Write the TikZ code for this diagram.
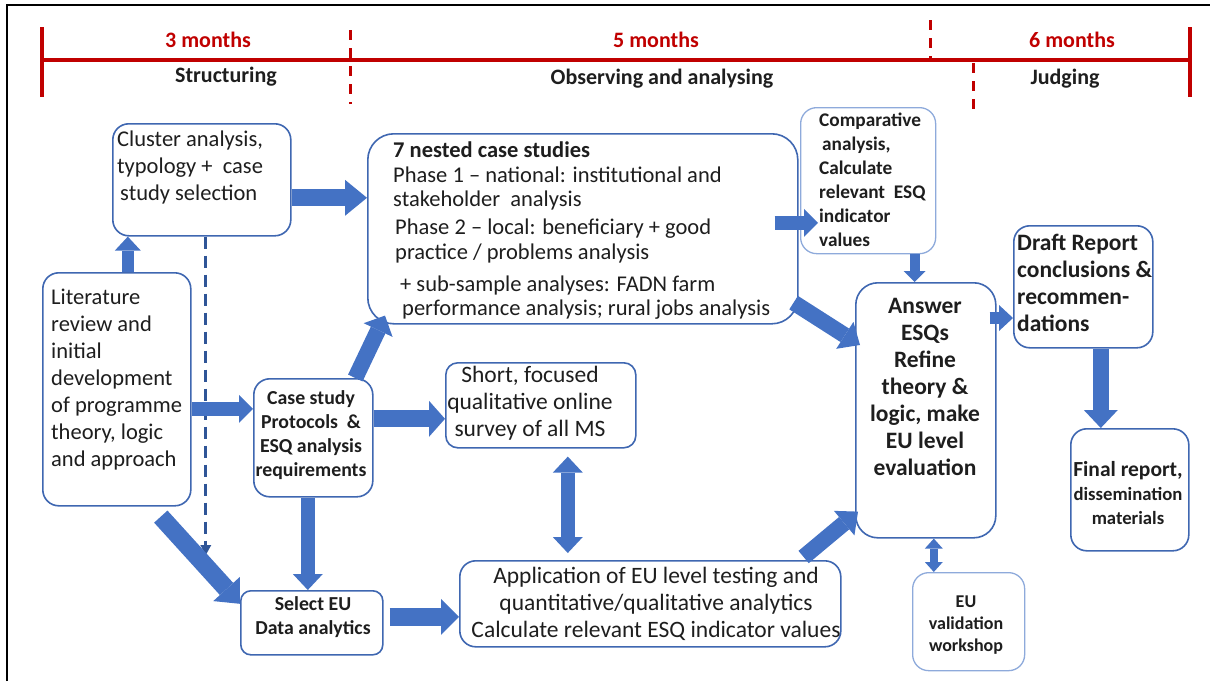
\documentclass[tikz,border=0pt]{standalone}
\usepackage{fontspec}
\setmainfont{Carlito}
\usetikzlibrary{arrows.meta}
\definecolor{flowblue}{HTML}{4472C4}
\definecolor{edgeblue}{HTML}{3F67B1}
\definecolor{paleedge}{HTML}{8EAADB}
\definecolor{dashblue}{HTML}{2F5597}
\definecolor{timered}{HTML}{C00000}
\definecolor{ink}{HTML}{1E1E1E}
\newcommand\fsBig{\fontsize{22.5}{27}\selectfont}
\newcommand\fsLarge{\fontsize{23.5}{27}\selectfont}
\newcommand\fsMid{\fontsize{22.5}{24.5}\selectfont}
\newcommand\fsSmall{\fontsize{19.8}{24}\selectfont\bfseries}
\begin{document}
\begin{tikzpicture}[x=1pt,y=-1pt,
  box/.style={draw=edgeblue,line width=1.6pt,rounded corners=16pt,fill=white,inner sep=0pt,anchor=north west},
  palebox/.style={box,draw=paleedge,line width=1.3pt},
  txt/.style={inner sep=0pt,text=ink,align=left,anchor=north west},
  ctxt/.style={inner sep=0pt,text=ink,align=center,anchor=north},
  fat/.style n args={3}{draw=flowblue,line width=#1pt,-{Triangle[width=#2pt,length=#3pt,line width=0pt]}},
  fatboth/.style n args={3}{draw=flowblue,line width=#1pt,{Triangle[width=#2pt,length=#3pt,line width=0pt]}-{Triangle[width=#2pt,length=#3pt,line width=0pt]}},
  tline/.style={draw=timered,line width=4pt},
  tdash/.style={draw=timered,line width=3pt,dash pattern=on 10pt off 8pt},
  tlabel/.style={inner sep=0pt,font=\fontsize{22}{26}\selectfont\bfseries}]
\useasboundingbox (0,0) rectangle (1210,681);
% frame
\draw[line width=2pt,black] (7,681) -- (7,5) -- (1210,5);

% timeline
\coordinate (tl) at (42,60);
\coordinate (tr) at (1190,60);
\draw[tline] (tl) -- (tr);
\draw[tline] ([yshift=33pt]tl) -- ([yshift=-37pt]tl);
\draw[tline] ([yshift=33pt]tr) -- ([yshift=-37pt]tr);
\coordinate (d1a) at (350,30); \coordinate (d1b) at (350,104);
\coordinate (d2a) at (930,20); \coordinate (d2b) at (930,58);
\coordinate (d3a) at (973,63); \coordinate (d3b) at (973,111);
\draw[tdash] (d1a) -- (d1b);
\draw[tdash] (d2a) -- (d2b);
\draw[tdash] (d3a) -- (d3b);
\node[tlabel,text=timered] (m3) at (208,40) {3 months};
\node[tlabel,text=timered] (m5) at (656,40) {5 months};
\node[tlabel,text=timered] (m6) at (1072,40) {6 months};
\node[tlabel,text=ink] (ph1) at (226,77) {Structuring};
\node[tlabel,text=ink] (ph2) at (662,79) {Observing and analysing};
\node[tlabel,text=ink] (ph3) at (1065,79) {Judging};

% boxes
\node[box,minimum width=178,minimum height=112] (clus) at (112,123) {};
\node[box,minimum width=148,minimum height=233] (lit) at (42,272) {};
\node[box,minimum width=430,minimum height=190,rounded corners=26pt] (nest) at (367,133) {};
\node[palebox,minimum width=135,minimum height=146] (comp) at (800,107) {};
\node[box,minimum width=119,minimum height=118] (case) at (253,378) {};
\node[box,minimum width=190,minimum height=85,rounded corners=12pt] (short) at (445,362) {};
\node[box,minimum width=142,minimum height=64,rounded corners=10pt] (sel) at (240,590) {};
\node[box,minimum width=381,minimum height=86] (app) at (459,560) {};
\node[box,minimum width=140,minimum height=255,rounded corners=22pt] (ans) at (855,282) {};
\node[palebox,minimum width=112,minimum height=98] (val) at (912,572) {};
\node[box,minimum width=139,minimum height=122] (draft) at (1013,225) {};
\node[box,minimum width=118,minimum height=122] (final) at (1070,428) {};

% texts
\node[txt,font=\fsBig] (clus-t) at (117,131) {Cluster analysis,\\typology +\ \ case\\\hspace*{3pt}study selection};
\node[txt,font=\fsBig] (lit-t) at (51,289) {Literature\\review and\\initial\\development\\of programme\\theory, logic\\and approach};
\node[txt,font=\fsMid] (nest-t) at (393,142) {\textbf{7 nested case studies}\\Phase 1 -- national: institutional and\\stakeholder\ \ analysis\\[3.5pt]
  \hspace*{2pt}Phase 2 -- local: beneficiary + good\\\hspace*{2pt}practice / problems analysis\\[7.5pt]
  \hspace*{7pt}+ sub-sample analyses: FADN farm\\\hspace*{9pt}performance analysis; rural jobs analysis};
\node[txt,font=\fontsize{19.3}{24}\selectfont\bfseries] (comp-t) at (819,113) {Comparative\\\hspace*{3pt}analysis,\\Calculate\\relevant\ \ ESQ\\indicator\\values};
\node[ctxt,font=\fsSmall] (case-t) at (311,390) {Case study\\Protocols\ \ \&\\ESQ analysis\\requirements};
\node[ctxt,font=\fsLarge] (short-t) at (530,366) {Short, focused\\qualitative online\\survey of all MS};
\node[ctxt,font=\fsSmall] (sel-t) at (313,596) {Select EU\\Data analytics};
\node[ctxt,font=\fsLarge] (app-t) at (656,567) {Application of EU level testing and\\quantitative/qualitative analytics\\Calculate relevant ESQ indicator values};
\node[ctxt,font=\fsLarge\bfseries] (ans-t) at (925,298) {Answer\\ESQs\\Refine\\theory \&\\logic, make\\EU level\\evaluation};
\node[ctxt,font=\fontsize{18}{22}\selectfont\bfseries] (val-t) at (966,596) {EU\\validation\\workshop};
\node[txt,font=\fsLarge\bfseries] (draft-t) at (1017,234) {Draft Report\\conclusions \&\\recommen-\\dations};
\node[ctxt,font=\fontsize{18.7}{24}\selectfont\bfseries] (final-t) at (1128,461) {{\fontsize{21.5}{24}\selectfont Final report,}\\dissemination\\materials};

% connectors
\coordinate (a1) at ([xshift=11pt]lit.north);
\draw[fat={12}{26}{14}] (a1) -- (a1 |- clus.south);
\coordinate (b1) at ([yshift=-18pt]clus.east);
\draw[fat={17}{36}{22}] (b1) -- (b1 -| nest.west);
\coordinate (c1) at ([xshift=4pt]clus.south);
\coordinate (c2) at ([yshift=35pt]sel.north);
\draw[draw=dashblue,line width=3pt,dash pattern=on 12pt off 7pt,-{Triangle[width=11pt,length=10pt,line width=0pt]}] (c1) -- (c1 |- c2);
\coordinate (e1) at ([yshift=-19.5pt]lit.east);
\draw[fat={14}{28}{14}] (e1) -- (e1 -| case.west);
\draw[fat={18}{36}{20}] ([xshift=44pt,yshift=-10pt]lit.south) -- ([yshift=19pt]sel.west);
\draw[fat={16}{32}{16}] ([xshift=42pt]case.north) -- ([xshift=18pt,yshift=9pt]nest.south west);
\coordinate (f1) at ([yshift=19pt]case.east);
\draw[fat={17}{36}{16}] (f1) -- (f1 -| short.west);
\coordinate (g1) at ([xshift=-5.5pt]case.south);
\draw[fat={14}{30}{16}] (g1) -- (g1 |- sel.north);
\coordinate (h1) at ([xshift=6pt,yshift=6pt]sel.east);
\draw[fat={18}{36}{18}] (h1) -- (h1 -| app.west);
\coordinate (i1) at ([xshift=27pt,yshift=-8pt]short.south);
\coordinate (i2) at ([yshift=7pt]app.north);
\draw[fatboth={14}{30}{16}] (i1) -- (i1 |- i2);
\draw[fat={16}{32}{18}] ([xshift=-38pt,yshift=3pt]app.north east) -- ([xshift=3pt,yshift=27pt]ans.south west);
\draw[fat={16}{32}{18}] ([xshift=-5pt,yshift=22pt]nest.south east) -- ([xshift=5pt,yshift=-63pt]ans.north west);
\coordinate (j1) at ([xshift=-24pt,yshift=6pt]nest.east);
\coordinate (j2) at ([xshift=18pt]comp.west);
\draw[fat={14}{28}{14}] (j1) -- (j1 -| j2);
\coordinate (k1) at ([xshift=46.5pt]comp.south);
\draw[fat={10}{22}{11}] (k1) -- (k1 |- ans.north);
\coordinate (l1) at ([xshift=-7pt,yshift=-36pt]ans.north east);
\draw[fat={12}{26}{14}] (l1) -- (l1 -| draft.west);
\coordinate (n1) at ([xshift=17.5pt]draft.south);
\draw[fat={16}{34}{18}] (n1) -- (n1 |- final.north);
\coordinate (o1) at ([xshift=8pt]ans.south);
\draw[fatboth={8}{18}{10}] (o1) -- (o1 |- val.north);
\end{tikzpicture}
\end{document}
